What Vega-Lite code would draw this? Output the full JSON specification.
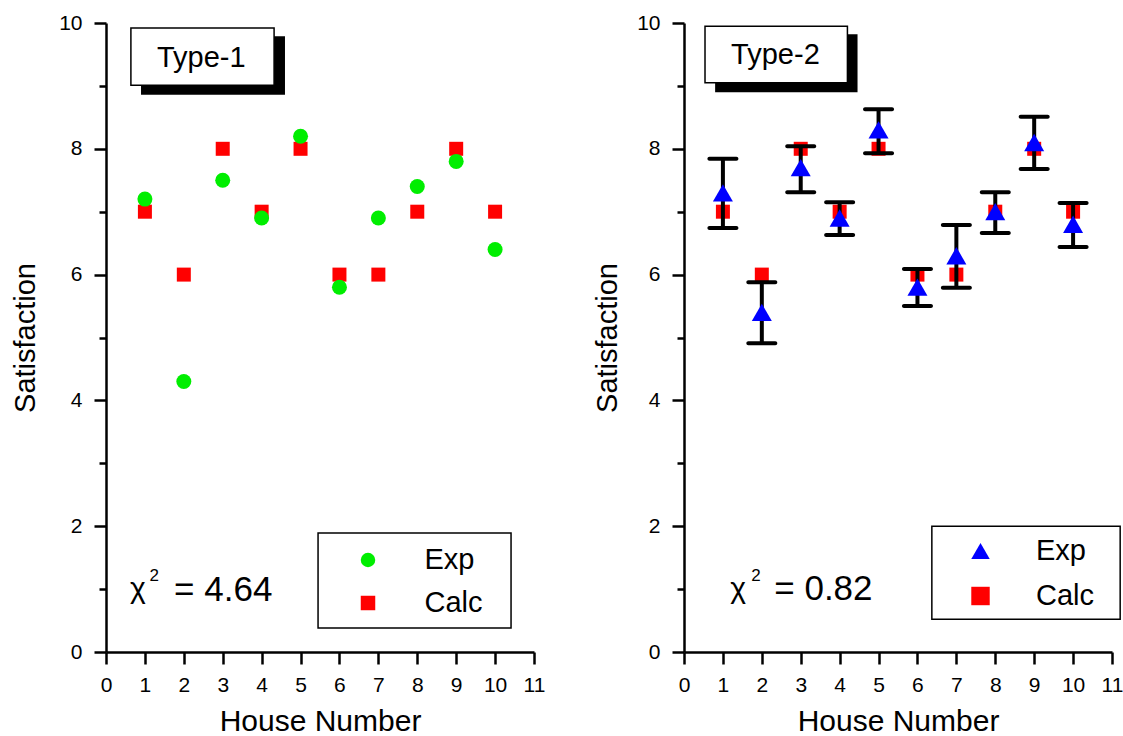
{
  "$schema": "https://vega.github.io/schema/vega-lite/v6.json",
  "padding": {"left": 11, "top": 12, "right": 2, "bottom": 0},
  "bounds": "flush",
  "spacing": 150,
  "resolve": {"scale": {"color": "independent", "shape": "independent"}, "legend": {"color": "independent", "shape": "independent"}},
  "config": {
    "font": "Liberation Sans",
    "view": {"stroke": null},
    "axis": {
      "domainColor": "black", "domainWidth": 2.5, "tickColor": "black", "tickWidth": 2.5,
      "labelColor": "black", "labelFontSize": 21, "labelFont": "Liberation Sans",
      "titleColor": "black", "titleFont": "Liberation Sans", "titleFontWeight": "normal",
      "grid": false, "labelFlush": false, "labelOverlap": false
    },
    "legend": {"labelColor": "black", "labelFont": "Liberation Sans", "labelFontSize": 29, "padding": 0, "symbolOffset": 0, "symbolStrokeWidth": 0}
  },
  "datasets": {
    "type1": [
      {"house": 1, "series": "Exp", "satisfaction": 7.2},
      {"house": 2, "series": "Exp", "satisfaction": 4.3},
      {"house": 3, "series": "Exp", "satisfaction": 7.5},
      {"house": 4, "series": "Exp", "satisfaction": 6.9},
      {"house": 5, "series": "Exp", "satisfaction": 8.2},
      {"house": 6, "series": "Exp", "satisfaction": 5.8},
      {"house": 7, "series": "Exp", "satisfaction": 6.9},
      {"house": 8, "series": "Exp", "satisfaction": 7.4},
      {"house": 9, "series": "Exp", "satisfaction": 7.8},
      {"house": 10, "series": "Exp", "satisfaction": 6.4},
      {"house": 1, "series": "Calc", "satisfaction": 7},
      {"house": 2, "series": "Calc", "satisfaction": 6},
      {"house": 3, "series": "Calc", "satisfaction": 8},
      {"house": 4, "series": "Calc", "satisfaction": 7},
      {"house": 5, "series": "Calc", "satisfaction": 8},
      {"house": 6, "series": "Calc", "satisfaction": 6},
      {"house": 7, "series": "Calc", "satisfaction": 6},
      {"house": 8, "series": "Calc", "satisfaction": 7},
      {"house": 9, "series": "Calc", "satisfaction": 8},
      {"house": 10, "series": "Calc", "satisfaction": 7}
    ],
    "type2": [
      {"house": 1, "series": "Exp", "satisfaction": 7.3, "low": 6.74, "high": 7.84},
      {"house": 2, "series": "Exp", "satisfaction": 5.4, "low": 4.91, "high": 5.88},
      {"house": 3, "series": "Exp", "satisfaction": 7.7, "low": 7.31, "high": 8.04},
      {"house": 4, "series": "Exp", "satisfaction": 6.9, "low": 6.63, "high": 7.15},
      {"house": 5, "series": "Exp", "satisfaction": 8.3, "low": 7.93, "high": 8.63},
      {"house": 6, "series": "Exp", "satisfaction": 5.8, "low": 5.5, "high": 6.09},
      {"house": 7, "series": "Exp", "satisfaction": 6.3, "low": 5.79, "high": 6.79},
      {"house": 8, "series": "Exp", "satisfaction": 7.0, "low": 6.66, "high": 7.31},
      {"house": 9, "series": "Exp", "satisfaction": 8.1, "low": 7.68, "high": 8.51},
      {"house": 10, "series": "Exp", "satisfaction": 6.8, "low": 6.44, "high": 7.14},
      {"house": 1, "series": "Calc", "satisfaction": 7},
      {"house": 2, "series": "Calc", "satisfaction": 6},
      {"house": 3, "series": "Calc", "satisfaction": 8},
      {"house": 4, "series": "Calc", "satisfaction": 7},
      {"house": 5, "series": "Calc", "satisfaction": 8},
      {"house": 6, "series": "Calc", "satisfaction": 6},
      {"house": 7, "series": "Calc", "satisfaction": 6},
      {"house": 8, "series": "Calc", "satisfaction": 7},
      {"house": 9, "series": "Calc", "satisfaction": 8},
      {"house": 10, "series": "Calc", "satisfaction": 7}
    ]
  },
  "hconcat": [
    {
      "width": 428,
      "height": 629,
      "data": {"name": "type1"},
      "layer": [
        {
          "transform": [{"filter": "datum.series === 'Calc'"}],
          "mark": {"type": "point", "filled": true, "opacity": 1, "size": 196},
          "encoding": {
            "x": {"field": "house", "type": "quantitative", "scale": {"domain": [0, 11], "nice": false, "zero": false},
              "axis": {"title": "House Number", "titleFontSize": 30, "values": [0,0.5,1,1.5,2,2.5,3,3.5,4,4.5,5,5.5,6,6.5,7,7.5,8,8.5,9,9.5,10,10.5,11], "format": "d", "labelOverlap": false, "labelExpr": "datum.value % 1 === 0 ? datum.label : ''", "tickSize": {"condition": {"test": "datum.value % 1 !== 0", "value": 4}, "value": 12}, "labelPadding": 10, "titleX": 214, "titleY": 78, "titleBaseline": "alphabetic", "titleAlign": "center"}},
            "y": {"field": "satisfaction", "type": "quantitative", "scale": {"domain": [0, 10], "nice": false, "zero": false},
              "axis": {"title": "Satisfaction", "titleFontSize": 29, "values": [0,1,2,3,4,5,6,7,8,9,10], "format": "d", "labelOverlap": false, "labelExpr": "datum.value % 2 === 0 ? datum.label : ''", "tickSize": {"condition": {"test": "datum.value % 2 === 1", "value": 7}, "value": 12}, "labelPadding": 12, "titleX": -81, "titleY": 314.5, "titleAngle": -90, "titleAlign": "center", "titleBaseline": "middle"}},
            "color": {"field": "series", "type": "nominal", "scale": {"domain": ["Exp", "Calc"], "range": ["#00ee00", "#ff0000"]},
              "legend": {"orient": "none", "legendX": 247.5, "legendY": 522.5, "title": null, "labelOffset": 42, "symbolSize": 210, "rowPadding": 13}},
            "shape": {"field": "series", "type": "nominal", "scale": {"domain": ["Exp", "Calc"], "range": ["circle", "square"]},
              "legend": {"orient": "none", "legendX": 247.5, "legendY": 522.5, "title": null, "labelOffset": 42, "symbolSize": 210, "rowPadding": 13}}
          }
        },
        {
          "transform": [{"filter": "datum.series === 'Exp'"}],
          "mark": {"type": "point", "filled": true, "opacity": 1, "size": 225},
          "encoding": {
            "x": {"field": "house", "type": "quantitative", "axis": {"title": "House Number", "titleFontSize": 30, "values": [0,0.5,1,1.5,2,2.5,3,3.5,4,4.5,5,5.5,6,6.5,7,7.5,8,8.5,9,9.5,10,10.5,11], "format": "d", "labelOverlap": false, "labelExpr": "datum.value % 1 === 0 ? datum.label : ''", "tickSize": {"condition": {"test": "datum.value % 1 !== 0", "value": 4}, "value": 12}, "labelPadding": 10, "titleX": 214, "titleY": 78, "titleBaseline": "alphabetic", "titleAlign": "center"}},
            "y": {"field": "satisfaction", "type": "quantitative", "axis": {"title": "Satisfaction", "titleFontSize": 29, "values": [0,1,2,3,4,5,6,7,8,9,10], "format": "d", "labelOverlap": false, "labelExpr": "datum.value % 2 === 0 ? datum.label : ''", "tickSize": {"condition": {"test": "datum.value % 2 === 1", "value": 7}, "value": 12}, "labelPadding": 12, "titleX": -81, "titleY": 314.5, "titleAngle": -90, "titleAlign": "center", "titleBaseline": "middle"}},
            "color": {"field": "series", "type": "nominal"},
            "shape": {"field": "series", "type": "nominal"}
          }
        },
        {
          "data": {"values": [{"item": "title shadow"}]},
          "mark": {"type": "rect", "color": "black"},
          "encoding": {
            "x": {"datum": 0.9, "type": "quantitative", "axis": {"title": "House Number", "titleFontSize": 30, "values": [0,0.5,1,1.5,2,2.5,3,3.5,4,4.5,5,5.5,6,6.5,7,7.5,8,8.5,9,9.5,10,10.5,11], "format": "d", "labelOverlap": false, "labelExpr": "datum.value % 1 === 0 ? datum.label : ''", "tickSize": {"condition": {"test": "datum.value % 1 !== 0", "value": 4}, "value": 12}, "labelPadding": 10, "titleX": 214, "titleY": 78, "titleBaseline": "alphabetic", "titleAlign": "center"}}, "x2": {"datum": 4.6},
            "y": {"datum": 9.79, "type": "quantitative", "axis": {"title": "Satisfaction", "titleFontSize": 29, "values": [0,1,2,3,4,5,6,7,8,9,10], "format": "d", "labelOverlap": false, "labelExpr": "datum.value % 2 === 0 ? datum.label : ''", "tickSize": {"condition": {"test": "datum.value % 2 === 1", "value": 7}, "value": 12}, "labelPadding": 12, "titleX": -81, "titleY": 314.5, "titleAngle": -90, "titleAlign": "center", "titleBaseline": "middle"}}, "y2": {"datum": 8.86}
          }
        },
        {
          "data": {"values": [{"item": "title box"}]},
          "mark": {"type": "rect", "fill": "white", "stroke": "black", "strokeWidth": 1.5},
          "encoding": {
            "x": {"datum": 0.64, "type": "quantitative", "axis": {"title": "House Number", "titleFontSize": 30, "values": [0,0.5,1,1.5,2,2.5,3,3.5,4,4.5,5,5.5,6,6.5,7,7.5,8,8.5,9,9.5,10,10.5,11], "format": "d", "labelOverlap": false, "labelExpr": "datum.value % 1 === 0 ? datum.label : ''", "tickSize": {"condition": {"test": "datum.value % 1 !== 0", "value": 4}, "value": 12}, "labelPadding": 10, "titleX": 214, "titleY": 78, "titleBaseline": "alphabetic", "titleAlign": "center"}}, "x2": {"datum": 4.32},
            "y": {"datum": 9.92, "type": "quantitative", "axis": {"title": "Satisfaction", "titleFontSize": 29, "values": [0,1,2,3,4,5,6,7,8,9,10], "format": "d", "labelOverlap": false, "labelExpr": "datum.value % 2 === 0 ? datum.label : ''", "tickSize": {"condition": {"test": "datum.value % 2 === 1", "value": 7}, "value": 12}, "labelPadding": 12, "titleX": -81, "titleY": 314.5, "titleAngle": -90, "titleAlign": "center", "titleBaseline": "middle"}}, "y2": {"datum": 9.01}
          }
        },
        {
          "data": {"values": [{"label": "Type-1"}]},
          "mark": {"type": "text", "fontSize": 29, "align": "center", "baseline": "alphabetic", "color": "black"},
          "encoding": {
            "x": {"datum": 2.45, "type": "quantitative", "axis": {"title": "House Number", "titleFontSize": 30, "values": [0,0.5,1,1.5,2,2.5,3,3.5,4,4.5,5,5.5,6,6.5,7,7.5,8,8.5,9,9.5,10,10.5,11], "format": "d", "labelOverlap": false, "labelExpr": "datum.value % 1 === 0 ? datum.label : ''", "tickSize": {"condition": {"test": "datum.value % 1 !== 0", "value": 4}, "value": 12}, "labelPadding": 10, "titleX": 214, "titleY": 78, "titleBaseline": "alphabetic", "titleAlign": "center"}},
            "y": {"datum": 9.3, "type": "quantitative", "axis": {"title": "Satisfaction", "titleFontSize": 29, "values": [0,1,2,3,4,5,6,7,8,9,10], "format": "d", "labelOverlap": false, "labelExpr": "datum.value % 2 === 0 ? datum.label : ''", "tickSize": {"condition": {"test": "datum.value % 2 === 1", "value": 7}, "value": 12}, "labelPadding": 12, "titleX": -81, "titleY": 314.5, "titleAngle": -90, "titleAlign": "center", "titleBaseline": "middle"}},
            "text": {"field": "label"}
          }
        },
        {
          "data": {"values": [{"item": "legend frame"}]},
          "mark": {"type": "rect", "fill": "white", "stroke": "black", "strokeWidth": 1.5},
          "encoding": {
            "x": {"datum": 5.45, "type": "quantitative", "axis": {"title": "House Number", "titleFontSize": 30, "values": [0,0.5,1,1.5,2,2.5,3,3.5,4,4.5,5,5.5,6,6.5,7,7.5,8,8.5,9,9.5,10,10.5,11], "format": "d", "labelOverlap": false, "labelExpr": "datum.value % 1 === 0 ? datum.label : ''", "tickSize": {"condition": {"test": "datum.value % 1 !== 0", "value": 4}, "value": 12}, "labelPadding": 10, "titleX": 214, "titleY": 78, "titleBaseline": "alphabetic", "titleAlign": "center"}}, "x2": {"datum": 10.41},
            "y": {"datum": 1.89, "type": "quantitative", "axis": {"title": "Satisfaction", "titleFontSize": 29, "values": [0,1,2,3,4,5,6,7,8,9,10], "format": "d", "labelOverlap": false, "labelExpr": "datum.value % 2 === 0 ? datum.label : ''", "tickSize": {"condition": {"test": "datum.value % 2 === 1", "value": 7}, "value": 12}, "labelPadding": 12, "titleX": -81, "titleY": 314.5, "titleAngle": -90, "titleAlign": "center", "titleBaseline": "middle"}}, "y2": {"datum": 0.38}
          }
        },
        {
          "data": {"values": [{"label": "χ"}]},
          "mark": {"type": "text", "fontSize": 30, "align": "left", "baseline": "alphabetic", "color": "black"},
          "encoding": {
            "x": {"datum": 0.62, "type": "quantitative", "axis": {"title": "House Number", "titleFontSize": 30, "values": [0,0.5,1,1.5,2,2.5,3,3.5,4,4.5,5,5.5,6,6.5,7,7.5,8,8.5,9,9.5,10,10.5,11], "format": "d", "labelOverlap": false, "labelExpr": "datum.value % 1 === 0 ? datum.label : ''", "tickSize": {"condition": {"test": "datum.value % 1 !== 0", "value": 4}, "value": 12}, "labelPadding": 10, "titleX": 214, "titleY": 78, "titleBaseline": "alphabetic", "titleAlign": "center"}},
            "y": {"datum": 0.86, "type": "quantitative", "axis": {"title": "Satisfaction", "titleFontSize": 29, "values": [0,1,2,3,4,5,6,7,8,9,10], "format": "d", "labelOverlap": false, "labelExpr": "datum.value % 2 === 0 ? datum.label : ''", "tickSize": {"condition": {"test": "datum.value % 2 === 1", "value": 7}, "value": 12}, "labelPadding": 12, "titleX": -81, "titleY": 314.5, "titleAngle": -90, "titleAlign": "center", "titleBaseline": "middle"}},
            "text": {"field": "label"}
          }
        },
        {
          "data": {"values": [{"label": "2"}]},
          "mark": {"type": "text", "fontSize": 17, "align": "left", "baseline": "alphabetic", "color": "black"},
          "encoding": {
            "x": {"datum": 1.12, "type": "quantitative", "axis": {"title": "House Number", "titleFontSize": 30, "values": [0,0.5,1,1.5,2,2.5,3,3.5,4,4.5,5,5.5,6,6.5,7,7.5,8,8.5,9,9.5,10,10.5,11], "format": "d", "labelOverlap": false, "labelExpr": "datum.value % 1 === 0 ? datum.label : ''", "tickSize": {"condition": {"test": "datum.value % 1 !== 0", "value": 4}, "value": 12}, "labelPadding": 10, "titleX": 214, "titleY": 78, "titleBaseline": "alphabetic", "titleAlign": "center"}},
            "y": {"datum": 1.13, "type": "quantitative", "axis": {"title": "Satisfaction", "titleFontSize": 29, "values": [0,1,2,3,4,5,6,7,8,9,10], "format": "d", "labelOverlap": false, "labelExpr": "datum.value % 2 === 0 ? datum.label : ''", "tickSize": {"condition": {"test": "datum.value % 2 === 1", "value": 7}, "value": 12}, "labelPadding": 12, "titleX": -81, "titleY": 314.5, "titleAngle": -90, "titleAlign": "center", "titleBaseline": "middle"}},
            "text": {"field": "label"}
          }
        },
        {
          "data": {"values": [{"label": "= 4.64"}]},
          "mark": {"type": "text", "fontSize": 35, "align": "left", "baseline": "alphabetic", "color": "black"},
          "encoding": {
            "x": {"datum": 1.75, "type": "quantitative", "axis": {"title": "House Number", "titleFontSize": 30, "values": [0,0.5,1,1.5,2,2.5,3,3.5,4,4.5,5,5.5,6,6.5,7,7.5,8,8.5,9,9.5,10,10.5,11], "format": "d", "labelOverlap": false, "labelExpr": "datum.value % 1 === 0 ? datum.label : ''", "tickSize": {"condition": {"test": "datum.value % 1 !== 0", "value": 4}, "value": 12}, "labelPadding": 10, "titleX": 214, "titleY": 78, "titleBaseline": "alphabetic", "titleAlign": "center"}},
            "y": {"datum": 0.81, "type": "quantitative", "axis": {"title": "Satisfaction", "titleFontSize": 29, "values": [0,1,2,3,4,5,6,7,8,9,10], "format": "d", "labelOverlap": false, "labelExpr": "datum.value % 2 === 0 ? datum.label : ''", "tickSize": {"condition": {"test": "datum.value % 2 === 1", "value": 7}, "value": 12}, "labelPadding": 12, "titleX": -81, "titleY": 314.5, "titleAngle": -90, "titleAlign": "center", "titleBaseline": "middle"}},
            "text": {"field": "label"}
          }
        }
      ]
    },
    {
      "width": 428,
      "height": 629,
      "data": {"name": "type2"},
      "layer": [
        {
          "transform": [{"filter": "datum.series === 'Calc'"}],
          "mark": {"type": "point", "filled": true, "opacity": 1, "size": 196},
          "encoding": {
            "x": {"field": "house", "type": "quantitative", "scale": {"domain": [0, 11], "nice": false, "zero": false},
              "axis": {"title": "House Number", "titleFontSize": 30, "values": [0,0.5,1,1.5,2,2.5,3,3.5,4,4.5,5,5.5,6,6.5,7,7.5,8,8.5,9,9.5,10,10.5,11], "format": "d", "labelOverlap": false, "labelExpr": "datum.value % 1 === 0 ? datum.label : ''", "tickSize": {"condition": {"test": "datum.value % 1 !== 0", "value": 4}, "value": 12}, "labelPadding": 10, "titleX": 214, "titleY": 78, "titleBaseline": "alphabetic", "titleAlign": "center"}},
            "y": {"field": "satisfaction", "type": "quantitative", "scale": {"domain": [0, 10], "nice": false, "zero": false},
              "axis": {"title": "Satisfaction", "titleFontSize": 29, "values": [0,1,2,3,4,5,6,7,8,9,10], "format": "d", "labelOverlap": false, "labelExpr": "datum.value % 2 === 0 ? datum.label : ''", "tickSize": {"condition": {"test": "datum.value % 2 === 1", "value": 7}, "value": 12}, "labelPadding": 12, "titleX": -77, "titleY": 314.5, "titleAngle": -90, "titleAlign": "center", "titleBaseline": "middle"}},
            "color": {"field": "series", "type": "nominal", "scale": {"domain": ["Exp", "Calc"], "range": ["#0000ff", "#ff0000"]},
              "legend": {"orient": "none", "legendX": 282, "legendY": 513.5, "title": null, "labelOffset": 41, "symbolSize": 340, "rowPadding": 15}},
            "shape": {"field": "series", "type": "nominal", "scale": {"domain": ["Exp", "Calc"], "range": ["triangle-up", "square"]},
              "legend": {"orient": "none", "legendX": 282, "legendY": 513.5, "title": null, "labelOffset": 41, "symbolSize": 340, "rowPadding": 15}}
          }
        },
        {
          "transform": [{"filter": "datum.series === 'Exp'"}],
          "mark": {"type": "rule", "color": "black", "strokeWidth": 4},
          "encoding": {
            "x": {"field": "house", "type": "quantitative", "axis": {"title": "House Number", "titleFontSize": 30, "values": [0,0.5,1,1.5,2,2.5,3,3.5,4,4.5,5,5.5,6,6.5,7,7.5,8,8.5,9,9.5,10,10.5,11], "format": "d", "labelOverlap": false, "labelExpr": "datum.value % 1 === 0 ? datum.label : ''", "tickSize": {"condition": {"test": "datum.value % 1 !== 0", "value": 4}, "value": 12}, "labelPadding": 10, "titleX": 214, "titleY": 78, "titleBaseline": "alphabetic", "titleAlign": "center"}},
            "y": {"field": "low", "type": "quantitative", "axis": {"title": "Satisfaction", "titleFontSize": 29, "values": [0,1,2,3,4,5,6,7,8,9,10], "format": "d", "labelOverlap": false, "labelExpr": "datum.value % 2 === 0 ? datum.label : ''", "tickSize": {"condition": {"test": "datum.value % 2 === 1", "value": 7}, "value": 12}, "labelPadding": 12, "titleX": -77, "titleY": 314.5, "titleAngle": -90, "titleAlign": "center", "titleBaseline": "middle"}},
            "y2": {"field": "high"}
          }
        },
        {
          "transform": [{"filter": "datum.series === 'Exp'"}],
          "mark": {"type": "tick", "orient": "horizontal", "color": "black", "size": 31, "thickness": 4, "cornerRadius": 2, "opacity": 1},
          "encoding": {
            "x": {"field": "house", "type": "quantitative", "axis": {"title": "House Number", "titleFontSize": 30, "values": [0,0.5,1,1.5,2,2.5,3,3.5,4,4.5,5,5.5,6,6.5,7,7.5,8,8.5,9,9.5,10,10.5,11], "format": "d", "labelOverlap": false, "labelExpr": "datum.value % 1 === 0 ? datum.label : ''", "tickSize": {"condition": {"test": "datum.value % 1 !== 0", "value": 4}, "value": 12}, "labelPadding": 10, "titleX": 214, "titleY": 78, "titleBaseline": "alphabetic", "titleAlign": "center"}},
            "y": {"field": "low", "type": "quantitative", "axis": {"title": "Satisfaction", "titleFontSize": 29, "values": [0,1,2,3,4,5,6,7,8,9,10], "format": "d", "labelOverlap": false, "labelExpr": "datum.value % 2 === 0 ? datum.label : ''", "tickSize": {"condition": {"test": "datum.value % 2 === 1", "value": 7}, "value": 12}, "labelPadding": 12, "titleX": -77, "titleY": 314.5, "titleAngle": -90, "titleAlign": "center", "titleBaseline": "middle"}}
          }
        },
        {
          "transform": [{"filter": "datum.series === 'Exp'"}],
          "mark": {"type": "tick", "orient": "horizontal", "color": "black", "size": 31, "thickness": 4, "cornerRadius": 2, "opacity": 1},
          "encoding": {
            "x": {"field": "house", "type": "quantitative", "axis": {"title": "House Number", "titleFontSize": 30, "values": [0,0.5,1,1.5,2,2.5,3,3.5,4,4.5,5,5.5,6,6.5,7,7.5,8,8.5,9,9.5,10,10.5,11], "format": "d", "labelOverlap": false, "labelExpr": "datum.value % 1 === 0 ? datum.label : ''", "tickSize": {"condition": {"test": "datum.value % 1 !== 0", "value": 4}, "value": 12}, "labelPadding": 10, "titleX": 214, "titleY": 78, "titleBaseline": "alphabetic", "titleAlign": "center"}},
            "y": {"field": "high", "type": "quantitative", "axis": {"title": "Satisfaction", "titleFontSize": 29, "values": [0,1,2,3,4,5,6,7,8,9,10], "format": "d", "labelOverlap": false, "labelExpr": "datum.value % 2 === 0 ? datum.label : ''", "tickSize": {"condition": {"test": "datum.value % 2 === 1", "value": 7}, "value": 12}, "labelPadding": 12, "titleX": -77, "titleY": 314.5, "titleAngle": -90, "titleAlign": "center", "titleBaseline": "middle"}}
          }
        },
        {
          "transform": [{"filter": "datum.series === 'Exp'"}],
          "mark": {"type": "point", "filled": true, "opacity": 1, "size": 400},
          "encoding": {
            "x": {"field": "house", "type": "quantitative", "axis": {"title": "House Number", "titleFontSize": 30, "values": [0,0.5,1,1.5,2,2.5,3,3.5,4,4.5,5,5.5,6,6.5,7,7.5,8,8.5,9,9.5,10,10.5,11], "format": "d", "labelOverlap": false, "labelExpr": "datum.value % 1 === 0 ? datum.label : ''", "tickSize": {"condition": {"test": "datum.value % 1 !== 0", "value": 4}, "value": 12}, "labelPadding": 10, "titleX": 214, "titleY": 78, "titleBaseline": "alphabetic", "titleAlign": "center"}},
            "y": {"field": "satisfaction", "type": "quantitative", "axis": {"title": "Satisfaction", "titleFontSize": 29, "values": [0,1,2,3,4,5,6,7,8,9,10], "format": "d", "labelOverlap": false, "labelExpr": "datum.value % 2 === 0 ? datum.label : ''", "tickSize": {"condition": {"test": "datum.value % 2 === 1", "value": 7}, "value": 12}, "labelPadding": 12, "titleX": -77, "titleY": 314.5, "titleAngle": -90, "titleAlign": "center", "titleBaseline": "middle"}},
            "color": {"field": "series", "type": "nominal"},
            "shape": {"field": "series", "type": "nominal"}
          }
        },
        {
          "data": {"values": [{"item": "title shadow"}]},
          "mark": {"type": "rect", "color": "black"},
          "encoding": {
            "x": {"datum": 0.8, "type": "quantitative", "axis": {"title": "House Number", "titleFontSize": 30, "values": [0,0.5,1,1.5,2,2.5,3,3.5,4,4.5,5,5.5,6,6.5,7,7.5,8,8.5,9,9.5,10,10.5,11], "format": "d", "labelOverlap": false, "labelExpr": "datum.value % 1 === 0 ? datum.label : ''", "tickSize": {"condition": {"test": "datum.value % 1 !== 0", "value": 4}, "value": 12}, "labelPadding": 10, "titleX": 214, "titleY": 78, "titleBaseline": "alphabetic", "titleAlign": "center"}}, "x2": {"datum": 4.46},
            "y": {"datum": 9.82, "type": "quantitative", "axis": {"title": "Satisfaction", "titleFontSize": 29, "values": [0,1,2,3,4,5,6,7,8,9,10], "format": "d", "labelOverlap": false, "labelExpr": "datum.value % 2 === 0 ? datum.label : ''", "tickSize": {"condition": {"test": "datum.value % 2 === 1", "value": 7}, "value": 12}, "labelPadding": 12, "titleX": -77, "titleY": 314.5, "titleAngle": -90, "titleAlign": "center", "titleBaseline": "middle"}}, "y2": {"datum": 8.9}
          }
        },
        {
          "data": {"values": [{"item": "title box"}]},
          "mark": {"type": "rect", "fill": "white", "stroke": "black", "strokeWidth": 1.5},
          "encoding": {
            "x": {"datum": 0.54, "type": "quantitative", "axis": {"title": "House Number", "titleFontSize": 30, "values": [0,0.5,1,1.5,2,2.5,3,3.5,4,4.5,5,5.5,6,6.5,7,7.5,8,8.5,9,9.5,10,10.5,11], "format": "d", "labelOverlap": false, "labelExpr": "datum.value % 1 === 0 ? datum.label : ''", "tickSize": {"condition": {"test": "datum.value % 1 !== 0", "value": 4}, "value": 12}, "labelPadding": 10, "titleX": 214, "titleY": 78, "titleBaseline": "alphabetic", "titleAlign": "center"}}, "x2": {"datum": 4.2},
            "y": {"datum": 9.95, "type": "quantitative", "axis": {"title": "Satisfaction", "titleFontSize": 29, "values": [0,1,2,3,4,5,6,7,8,9,10], "format": "d", "labelOverlap": false, "labelExpr": "datum.value % 2 === 0 ? datum.label : ''", "tickSize": {"condition": {"test": "datum.value % 2 === 1", "value": 7}, "value": 12}, "labelPadding": 12, "titleX": -77, "titleY": 314.5, "titleAngle": -90, "titleAlign": "center", "titleBaseline": "middle"}}, "y2": {"datum": 9.05}
          }
        },
        {
          "data": {"values": [{"label": "Type-2"}]},
          "mark": {"type": "text", "fontSize": 29, "align": "center", "baseline": "alphabetic", "color": "black"},
          "encoding": {
            "x": {"datum": 2.35, "type": "quantitative", "axis": {"title": "House Number", "titleFontSize": 30, "values": [0,0.5,1,1.5,2,2.5,3,3.5,4,4.5,5,5.5,6,6.5,7,7.5,8,8.5,9,9.5,10,10.5,11], "format": "d", "labelOverlap": false, "labelExpr": "datum.value % 1 === 0 ? datum.label : ''", "tickSize": {"condition": {"test": "datum.value % 1 !== 0", "value": 4}, "value": 12}, "labelPadding": 10, "titleX": 214, "titleY": 78, "titleBaseline": "alphabetic", "titleAlign": "center"}},
            "y": {"datum": 9.35, "type": "quantitative", "axis": {"title": "Satisfaction", "titleFontSize": 29, "values": [0,1,2,3,4,5,6,7,8,9,10], "format": "d", "labelOverlap": false, "labelExpr": "datum.value % 2 === 0 ? datum.label : ''", "tickSize": {"condition": {"test": "datum.value % 2 === 1", "value": 7}, "value": 12}, "labelPadding": 12, "titleX": -77, "titleY": 314.5, "titleAngle": -90, "titleAlign": "center", "titleBaseline": "middle"}},
            "text": {"field": "label"}
          }
        },
        {
          "data": {"values": [{"item": "legend frame"}]},
          "mark": {"type": "rect", "fill": "white", "stroke": "black", "strokeWidth": 1.5},
          "encoding": {
            "x": {"datum": 6.37, "type": "quantitative", "axis": {"title": "House Number", "titleFontSize": 30, "values": [0,0.5,1,1.5,2,2.5,3,3.5,4,4.5,5,5.5,6,6.5,7,7.5,8,8.5,9,9.5,10,10.5,11], "format": "d", "labelOverlap": false, "labelExpr": "datum.value % 1 === 0 ? datum.label : ''", "tickSize": {"condition": {"test": "datum.value % 1 !== 0", "value": 4}, "value": 12}, "labelPadding": 10, "titleX": 214, "titleY": 78, "titleBaseline": "alphabetic", "titleAlign": "center"}}, "x2": {"datum": 11.21},
            "y": {"datum": 2.0, "type": "quantitative", "axis": {"title": "Satisfaction", "titleFontSize": 29, "values": [0,1,2,3,4,5,6,7,8,9,10], "format": "d", "labelOverlap": false, "labelExpr": "datum.value % 2 === 0 ? datum.label : ''", "tickSize": {"condition": {"test": "datum.value % 2 === 1", "value": 7}, "value": 12}, "labelPadding": 12, "titleX": -77, "titleY": 314.5, "titleAngle": -90, "titleAlign": "center", "titleBaseline": "middle"}}, "y2": {"datum": 0.52}
          }
        },
        {
          "data": {"values": [{"label": "χ"}]},
          "mark": {"type": "text", "fontSize": 30, "align": "left", "baseline": "alphabetic", "color": "black"},
          "encoding": {
            "x": {"datum": 1.19, "type": "quantitative", "axis": {"title": "House Number", "titleFontSize": 30, "values": [0,0.5,1,1.5,2,2.5,3,3.5,4,4.5,5,5.5,6,6.5,7,7.5,8,8.5,9,9.5,10,10.5,11], "format": "d", "labelOverlap": false, "labelExpr": "datum.value % 1 === 0 ? datum.label : ''", "tickSize": {"condition": {"test": "datum.value % 1 !== 0", "value": 4}, "value": 12}, "labelPadding": 10, "titleX": 214, "titleY": 78, "titleBaseline": "alphabetic", "titleAlign": "center"}},
            "y": {"datum": 0.86, "type": "quantitative", "axis": {"title": "Satisfaction", "titleFontSize": 29, "values": [0,1,2,3,4,5,6,7,8,9,10], "format": "d", "labelOverlap": false, "labelExpr": "datum.value % 2 === 0 ? datum.label : ''", "tickSize": {"condition": {"test": "datum.value % 2 === 1", "value": 7}, "value": 12}, "labelPadding": 12, "titleX": -77, "titleY": 314.5, "titleAngle": -90, "titleAlign": "center", "titleBaseline": "middle"}},
            "text": {"field": "label"}
          }
        },
        {
          "data": {"values": [{"label": "2"}]},
          "mark": {"type": "text", "fontSize": 17, "align": "left", "baseline": "alphabetic", "color": "black"},
          "encoding": {
            "x": {"datum": 1.73, "type": "quantitative", "axis": {"title": "House Number", "titleFontSize": 30, "values": [0,0.5,1,1.5,2,2.5,3,3.5,4,4.5,5,5.5,6,6.5,7,7.5,8,8.5,9,9.5,10,10.5,11], "format": "d", "labelOverlap": false, "labelExpr": "datum.value % 1 === 0 ? datum.label : ''", "tickSize": {"condition": {"test": "datum.value % 1 !== 0", "value": 4}, "value": 12}, "labelPadding": 10, "titleX": 214, "titleY": 78, "titleBaseline": "alphabetic", "titleAlign": "center"}},
            "y": {"datum": 1.13, "type": "quantitative", "axis": {"title": "Satisfaction", "titleFontSize": 29, "values": [0,1,2,3,4,5,6,7,8,9,10], "format": "d", "labelOverlap": false, "labelExpr": "datum.value % 2 === 0 ? datum.label : ''", "tickSize": {"condition": {"test": "datum.value % 2 === 1", "value": 7}, "value": 12}, "labelPadding": 12, "titleX": -77, "titleY": 314.5, "titleAngle": -90, "titleAlign": "center", "titleBaseline": "middle"}},
            "text": {"field": "label"}
          }
        },
        {
          "data": {"values": [{"label": "= 0.82"}]},
          "mark": {"type": "text", "fontSize": 35, "align": "left", "baseline": "alphabetic", "color": "black"},
          "encoding": {
            "x": {"datum": 2.32, "type": "quantitative", "axis": {"title": "House Number", "titleFontSize": 30, "values": [0,0.5,1,1.5,2,2.5,3,3.5,4,4.5,5,5.5,6,6.5,7,7.5,8,8.5,9,9.5,10,10.5,11], "format": "d", "labelOverlap": false, "labelExpr": "datum.value % 1 === 0 ? datum.label : ''", "tickSize": {"condition": {"test": "datum.value % 1 !== 0", "value": 4}, "value": 12}, "labelPadding": 10, "titleX": 214, "titleY": 78, "titleBaseline": "alphabetic", "titleAlign": "center"}},
            "y": {"datum": 0.83, "type": "quantitative", "axis": {"title": "Satisfaction", "titleFontSize": 29, "values": [0,1,2,3,4,5,6,7,8,9,10], "format": "d", "labelOverlap": false, "labelExpr": "datum.value % 2 === 0 ? datum.label : ''", "tickSize": {"condition": {"test": "datum.value % 2 === 1", "value": 7}, "value": 12}, "labelPadding": 12, "titleX": -77, "titleY": 314.5, "titleAngle": -90, "titleAlign": "center", "titleBaseline": "middle"}},
            "text": {"field": "label"}
          }
        }
      ]
    }
  ]
}
